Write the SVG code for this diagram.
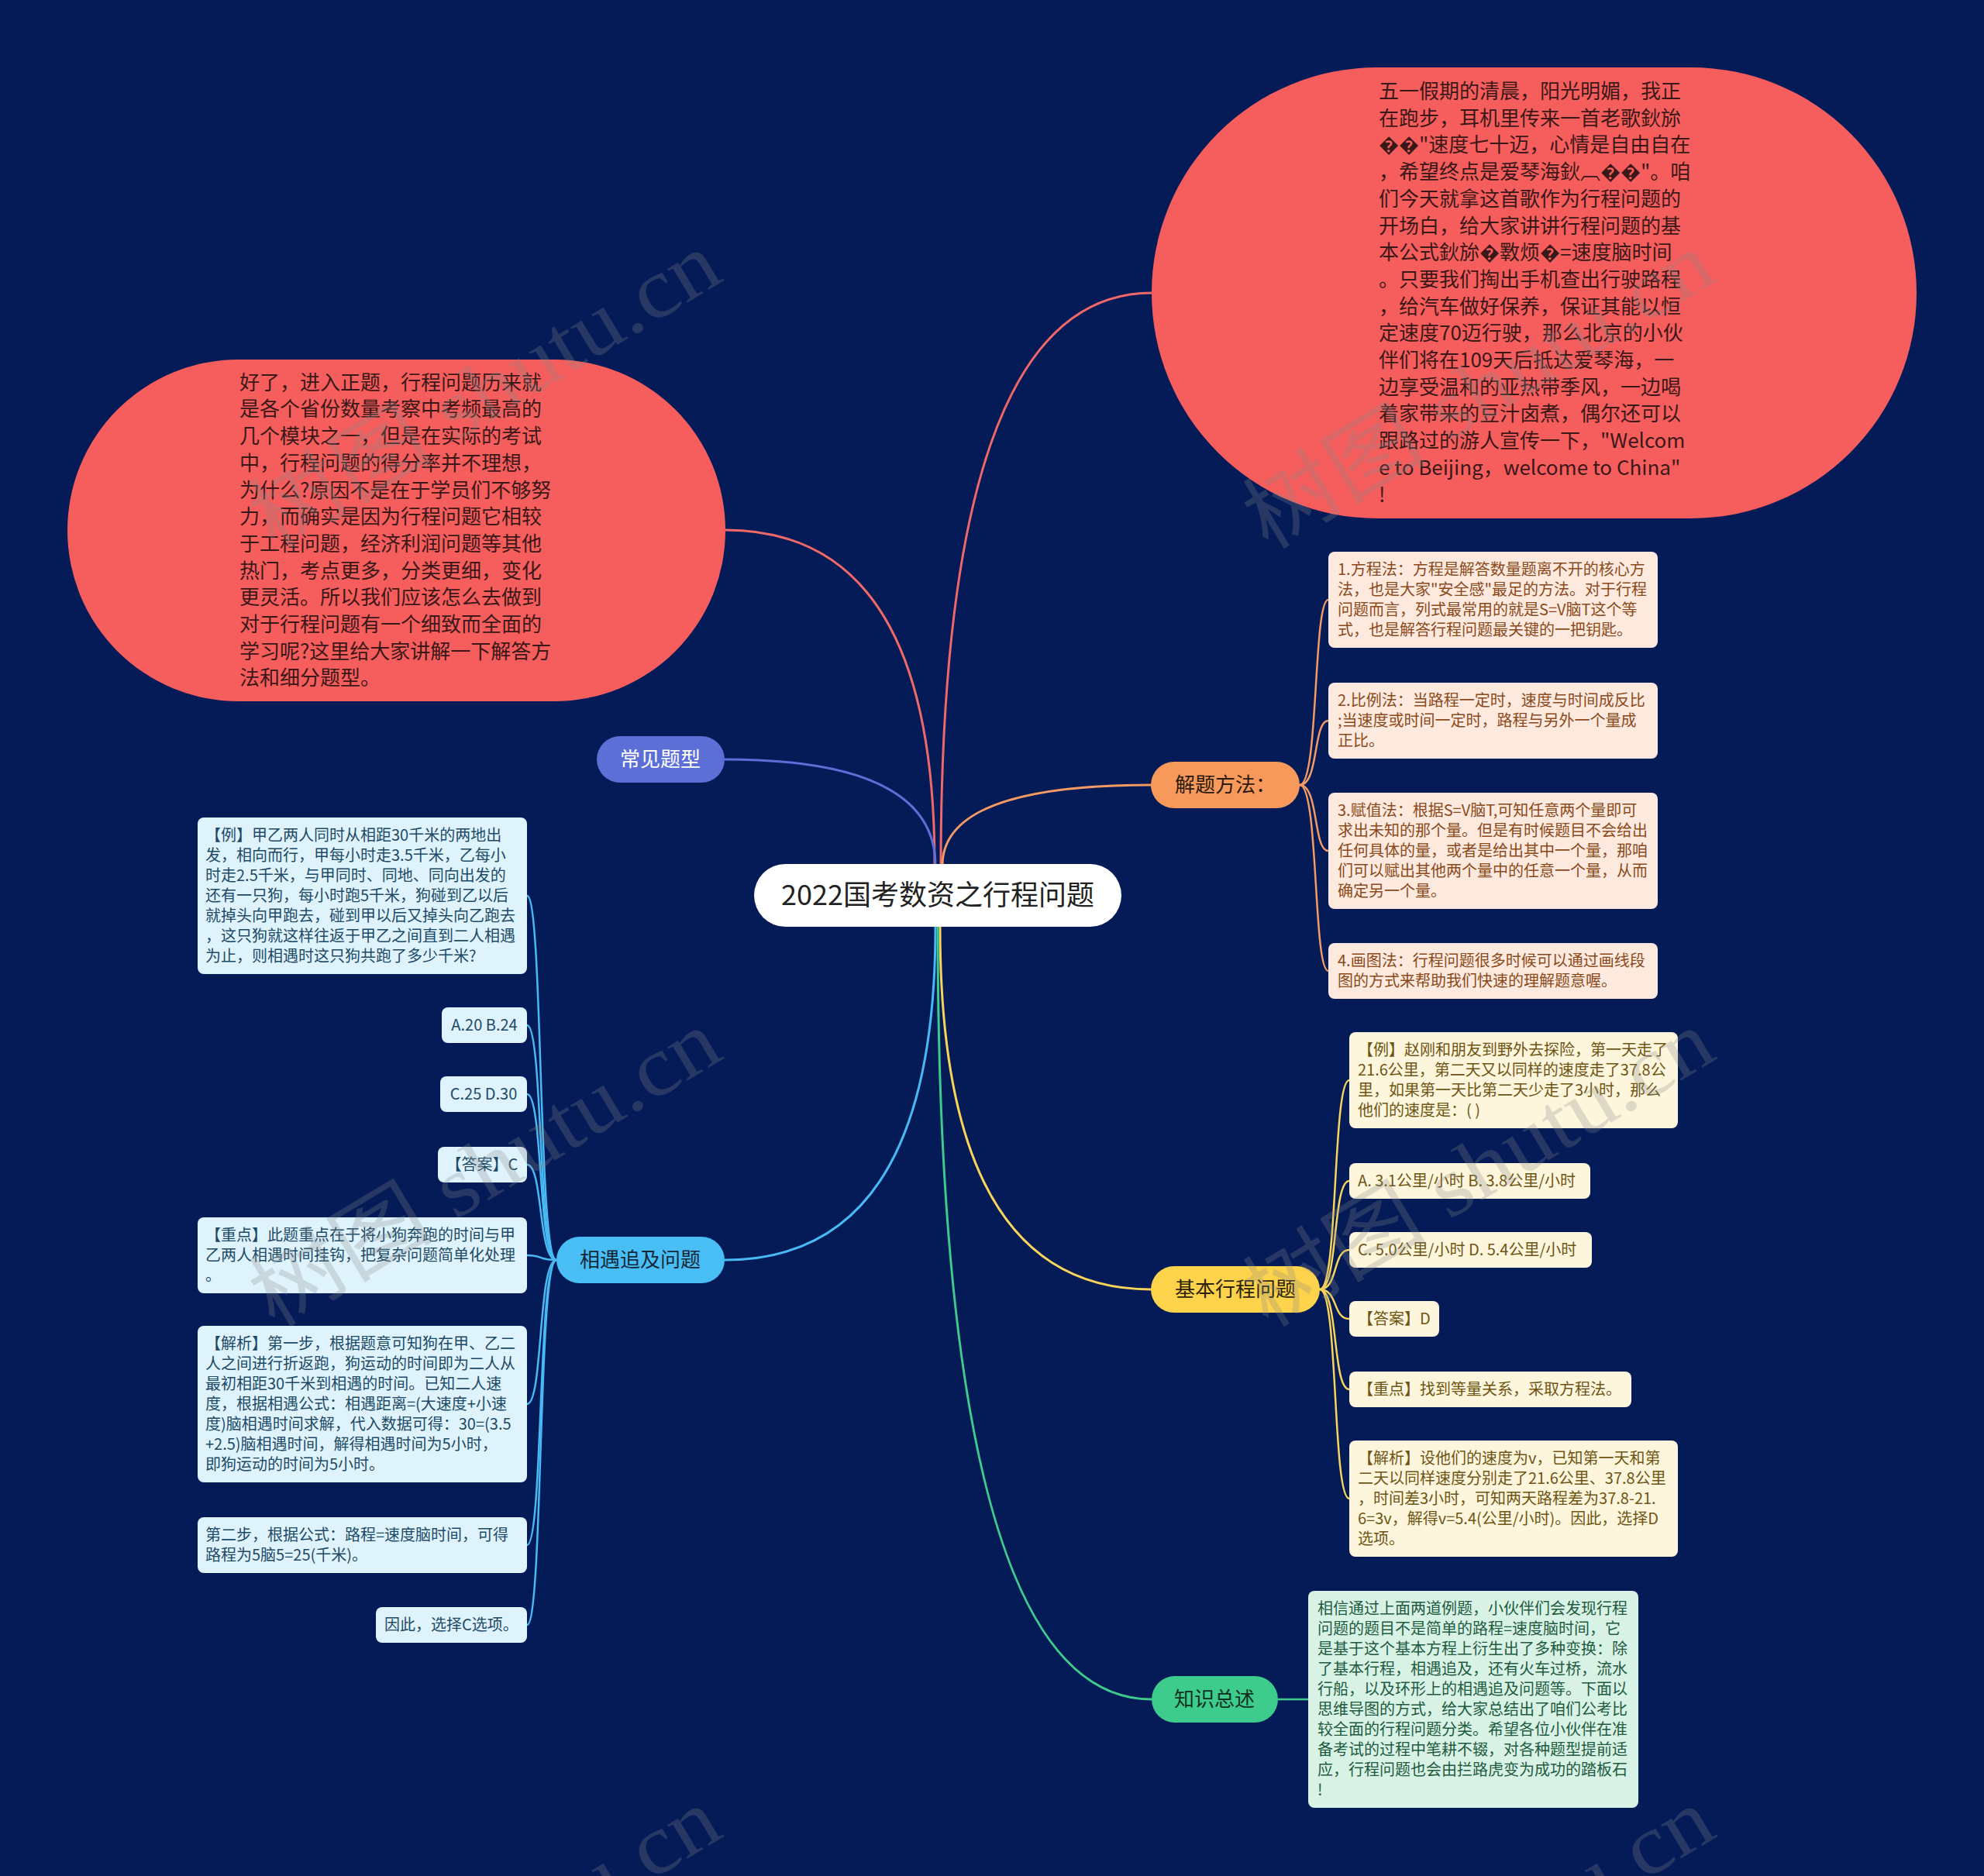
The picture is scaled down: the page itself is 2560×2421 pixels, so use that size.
<svg xmlns="http://www.w3.org/2000/svg" width="2560" height="2421" viewBox="0 0 2560 2421">
<style>
.t{font-family:"Noto Sans CJK SC","Noto Sans",sans-serif}
.pill{fill:#f65d5d}
.pt{font-size:26px;fill:#3b1818}
.bt{font-size:26px}
.lf{font-size:20px}
.c{fill:none;stroke-width:3;stroke-linecap:round}
.cl{fill:none;stroke-width:2.5}
.lb{fill:#dff3fc}.lbt{fill:#1d4a66}
.lo{fill:#fde9dd}.lot{fill:#8a4a1c}
.ly{fill:#fdf5dc}.lyt{fill:#6e5514}
.lg{fill:#d8f2e6}.lgt{fill:#1e5b3f}
.wm{font-family:"Liberation Serif","Noto Sans CJK SC",serif;font-size:110px;fill:#8a8a8a;opacity:0.26}
</style>
<rect width="2560" height="2421" fill="#041b58"/>

<g id="connectors">
  <path class="c" stroke="#f06868" d="M1214 1117 Q1214 378 1486 378"/>
  <path class="c" stroke="#f06868" d="M1206 1117 Q1206 684 936 684"/>
  <path class="c" stroke="#5b6fd7" d="M1207 1117 Q1207 980 935 980"/>
  <path class="c" stroke="#f49a62" d="M1216 1117 Q1216 1013 1485 1013"/>
  <path class="c" stroke="#48b9f2" d="M1207 1196 Q1207 1626 935 1626"/>
  <path class="c" stroke="#f8d45a" d="M1213 1196 Q1213 1664 1485 1664"/>
  <path class="c" stroke="#3ecb8c" d="M1210 1196 Q1210 2193 1486 2193"/>
  <g stroke="#f49a62">
    <path class="cl" d="M1677 1013 C1702 1013 1694 774 1714 774"/>
    <path class="cl" d="M1677 1013 C1702 1013 1694 930 1714 930"/>
    <path class="cl" d="M1677 1013 C1702 1013 1694 1098 1714 1098"/>
    <path class="cl" d="M1677 1013 C1702 1013 1694 1253 1714 1253"/>
  </g>
  <g stroke="#f8d45a">
    <path class="cl" d="M1703 1664 C1727 1664 1719 1394 1741 1394"/>
    <path class="cl" d="M1703 1664 C1727 1664 1719 1524 1741 1524"/>
    <path class="cl" d="M1703 1664 C1727 1664 1719 1613 1741 1613"/>
    <path class="cl" d="M1703 1664 C1727 1664 1719 1702 1741 1702"/>
    <path class="cl" d="M1703 1664 C1727 1664 1719 1793 1741 1793"/>
    <path class="cl" d="M1703 1664 C1727 1664 1719 1934 1741 1934"/>
  </g>
  <g stroke="#48b9f2">
    <path class="cl" d="M718 1626 C694 1626 701 1156 680 1156"/>
    <path class="cl" d="M718 1626 C694 1626 701 1323 680 1323"/>
    <path class="cl" d="M718 1626 C694 1626 701 1412 680 1412"/>
    <path class="cl" d="M718 1626 C694 1626 701 1503 680 1503"/>
    <path class="cl" d="M718 1626 C694 1626 701 1620 680 1620"/>
    <path class="cl" d="M718 1626 C694 1626 701 1812 680 1812"/>
    <path class="cl" d="M718 1626 C694 1626 701 1994 680 1994"/>
    <path class="cl" d="M718 1626 C694 1626 701 2097 680 2097"/>
  </g>
  <path class="cl" stroke="#3ecb8c" d="M1649 2193 L1688 2193"/>
</g>

<g id="root">
  <rect x="973" y="1115" width="474" height="81" rx="40.5" fill="#ffffff"/>
  <text class="t" x="1210" y="1168" font-size="36" fill="#222222" text-anchor="middle">2022国考数资之行程问题</text>
</g>

<g id="intro-right">
  <rect class="pill" x="1486" y="87" width="987" height="582" rx="291"/>
  <text class="t pt" x="1779">
    <tspan x="1779" y="127">五一假期的清晨，阳光明媚，我正</tspan>
    <tspan x="1779" y="161.7">在跑步，耳机里传来一首老歌鈥旀</tspan>
    <tspan x="1779" y="196.4">��"速度七十迈，心情是自由自在</tspan>
    <tspan x="1779" y="231.1">，希望终点是爱琴海鈥︹��"。咱</tspan>
    <tspan x="1779" y="265.8">们今天就拿这首歌作为行程问题的</tspan>
    <tspan x="1779" y="300.5">开场白，给大家讲讲行程问题的基</tspan>
    <tspan x="1779" y="335.2">本公式鈥旀�斁烦�=速度脑时间</tspan>
    <tspan x="1779" y="369.9">。只要我们掏出手机查出行驶路程</tspan>
    <tspan x="1779" y="404.6">，给汽车做好保养，保证其能以恒</tspan>
    <tspan x="1779" y="439.3">定速度70迈行驶，那么北京的小伙</tspan>
    <tspan x="1779" y="474">伴们将在109天后抵达爱琴海，一</tspan>
    <tspan x="1779" y="508.7">边享受温和的亚热带季风，一边喝</tspan>
    <tspan x="1779" y="543.4">着家带来的豆汁卤煮，偶尔还可以</tspan>
    <tspan x="1779" y="578.1">跟路过的游人宣传一下，"Welcom</tspan>
    <tspan x="1779" y="612.8">e to Beijing，welcome to China"</tspan>
    <tspan x="1779" y="647.5">!</tspan>
  </text>
</g>

<g id="intro-left">
  <rect class="pill" x="87" y="464" width="849" height="441" rx="220.5"/>
  <text class="t pt">
    <tspan x="309" y="502.7">好了，进入正题，行程问题历来就</tspan>
    <tspan x="309" y="537.4">是各个省份数量考察中考频最高的</tspan>
    <tspan x="309" y="572.1">几个模块之一，但是在实际的考试</tspan>
    <tspan x="309" y="606.8">中，行程问题的得分率并不理想，</tspan>
    <tspan x="309" y="641.5">为什么?原因不是在于学员们不够努</tspan>
    <tspan x="309" y="676.2">力，而确实是因为行程问题它相较</tspan>
    <tspan x="309" y="710.9">于工程问题，经济利润问题等其他</tspan>
    <tspan x="309" y="745.6">热门，考点更多，分类更细，变化</tspan>
    <tspan x="309" y="780.3">更灵活。所以我们应该怎么去做到</tspan>
    <tspan x="309" y="815">对于行程问题有一个细致而全面的</tspan>
    <tspan x="309" y="849.7">学习呢?这里给大家讲解一下解答方</tspan>
    <tspan x="309" y="884.4">法和细分题型。</tspan>
  </text>
</g>

<g id="branch-common">
  <rect x="770" y="950" width="165" height="60" rx="30" fill="#5b6fd7"/>
  <text class="t bt" x="852" y="989" fill="#ffffff" text-anchor="middle">常见题型</text>
</g>
<g id="branch-meet">
  <rect x="718" y="1596" width="217" height="60" rx="30" fill="#48bef5"/>
  <text class="t bt" x="826" y="1635" fill="#14283a" text-anchor="middle">相遇追及问题</text>
</g>
<g id="branch-method">
  <rect x="1485" y="983" width="192" height="60" rx="30" fill="#f7995a"/>
  <text class="t bt" x="1581" y="1022" fill="#2b1a0e" text-anchor="middle">解题方法：</text>
</g>
<g id="branch-basic">
  <rect x="1485" y="1634" width="218" height="60" rx="30" fill="#fcd34b"/>
  <text class="t bt" x="1594" y="1673" fill="#2b2208" text-anchor="middle">基本行程问题</text>
</g>
<g id="branch-summary">
  <rect x="1486" y="2163" width="163" height="60" rx="30" fill="#3dcc8c"/>
  <text class="t bt" x="1567" y="2202" fill="#10301f" text-anchor="middle">知识总述</text>
</g>

<g id="method-1">
  <rect class="lo" x="1714" y="712" width="425" height="124" rx="8"/>
  <text class="t lf lot">
    <tspan x="1726" y="742">1.方程法：方程是解答数量题离不开的核心方</tspan>
    <tspan x="1726" y="768">法，也是大家"安全感"最足的方法。对于行程</tspan>
    <tspan x="1726" y="794">问题而言，列式最常用的就是S=V脑T这个等</tspan>
    <tspan x="1726" y="820">式，也是解答行程问题最关键的一把钥匙。</tspan>
  </text>
</g>
<g id="method-2">
  <rect class="lo" x="1714" y="881" width="425" height="98" rx="8"/>
  <text class="t lf lot">
    <tspan x="1726" y="911">2.比例法：当路程一定时，速度与时间成反比</tspan>
    <tspan x="1726" y="937">;当速度或时间一定时，路程与另外一个量成</tspan>
    <tspan x="1726" y="963">正比。</tspan>
  </text>
</g>
<g id="method-3">
  <rect class="lo" x="1714" y="1023" width="425" height="150" rx="8"/>
  <text class="t lf lot">
    <tspan x="1726" y="1053">3.赋值法：根据S=V脑T,可知任意两个量即可</tspan>
    <tspan x="1726" y="1079">求出未知的那个量。但是有时候题目不会给出</tspan>
    <tspan x="1726" y="1105">任何具体的量，或者是给出其中一个量，那咱</tspan>
    <tspan x="1726" y="1131">们可以赋出其他两个量中的任意一个量，从而</tspan>
    <tspan x="1726" y="1157">确定另一个量。</tspan>
  </text>
</g>
<g id="method-4">
  <rect class="lo" x="1714" y="1217" width="425" height="72" rx="8"/>
  <text class="t lf lot">
    <tspan x="1726" y="1247">4.画图法：行程问题很多时候可以通过画线段</tspan>
    <tspan x="1726" y="1273">图的方式来帮助我们快速的理解题意喔。</tspan>
  </text>
</g>

<g id="basic-1">
  <rect class="ly" x="1741" y="1332" width="424" height="124" rx="8"/>
  <text class="t lf lyt">
    <tspan x="1752" y="1362">【例】赵刚和朋友到野外去探险，第一天走了</tspan>
    <tspan x="1752" y="1388">21.6公里，第二天又以同样的速度走了37.8公</tspan>
    <tspan x="1752" y="1414">里，如果第一天比第二天少走了3小时，那么</tspan>
    <tspan x="1752" y="1440">他们的速度是：( )</tspan>
  </text>
</g>
<g id="basic-2">
  <rect class="ly" x="1741" y="1501" width="311" height="46" rx="8"/>
  <text class="t lf lyt" x="1752" y="1531">A. 3.1公里/小时 B. 3.8公里/小时</text>
</g>
<g id="basic-3">
  <rect class="ly" x="1741" y="1590" width="313" height="46" rx="8"/>
  <text class="t lf lyt" x="1752" y="1620">C. 5.0公里/小时 D. 5.4公里/小时</text>
</g>
<g id="basic-4">
  <rect class="ly" x="1741" y="1679" width="116" height="46" rx="8"/>
  <text class="t lf lyt" x="1752" y="1709">【答案】D</text>
</g>
<g id="basic-5">
  <rect class="ly" x="1741" y="1770" width="364" height="46" rx="8"/>
  <text class="t lf lyt" x="1752" y="1800">【重点】找到等量关系，采取方程法。</text>
</g>
<g id="basic-6">
  <rect class="ly" x="1741" y="1859" width="424" height="150" rx="8"/>
  <text class="t lf lyt">
    <tspan x="1752" y="1889">【解析】设他们的速度为v，已知第一天和第</tspan>
    <tspan x="1752" y="1915">二天以同样速度分别走了21.6公里、37.8公里</tspan>
    <tspan x="1752" y="1941">，时间差3小时，可知两天路程差为37.8-21.</tspan>
    <tspan x="1752" y="1967">6=3v，解得v=5.4(公里/小时)。因此，选择D</tspan>
    <tspan x="1752" y="1993">选项。</tspan>
  </text>
</g>

<g id="meet-1">
  <rect class="lb" x="255" y="1055" width="425" height="202" rx="8"/>
  <text class="t lf lbt">
    <tspan x="265" y="1085">【例】甲乙两人同时从相距30千米的两地出</tspan>
    <tspan x="265" y="1111">发，相向而行，甲每小时走3.5千米，乙每小</tspan>
    <tspan x="265" y="1137">时走2.5千米，与甲同时、同地、同向出发的</tspan>
    <tspan x="265" y="1163">还有一只狗，每小时跑5千米，狗碰到乙以后</tspan>
    <tspan x="265" y="1189">就掉头向甲跑去，碰到甲以后又掉头向乙跑去</tspan>
    <tspan x="265" y="1215">，这只狗就这样往返于甲乙之间直到二人相遇</tspan>
    <tspan x="265" y="1241">为止，则相遇时这只狗共跑了多少千米?</tspan>
  </text>
</g>
<g id="meet-2">
  <rect class="lb" x="570" y="1300" width="110" height="46" rx="8"/>
  <text class="t lf lbt" x="625" y="1330" text-anchor="middle">A.20 B.24</text>
</g>
<g id="meet-3">
  <rect class="lb" x="568" y="1389" width="112" height="46" rx="8"/>
  <text class="t lf lbt" x="624" y="1419" text-anchor="middle">C.25 D.30</text>
</g>
<g id="meet-4">
  <rect class="lb" x="565" y="1480" width="115" height="46" rx="8"/>
  <text class="t lf lbt" x="622" y="1510" text-anchor="middle">【答案】C</text>
</g>
<g id="meet-5">
  <rect class="lb" x="255" y="1571" width="425" height="98" rx="8"/>
  <text class="t lf lbt">
    <tspan x="265" y="1601">【重点】此题重点在于将小狗奔跑的时间与甲</tspan>
    <tspan x="265" y="1627">乙两人相遇时间挂钩，把复杂问题简单化处理</tspan>
    <tspan x="265" y="1653">。</tspan>
  </text>
</g>
<g id="meet-6">
  <rect class="lb" x="255" y="1711" width="425" height="202" rx="8"/>
  <text class="t lf lbt">
    <tspan x="265" y="1741">【解析】第一步，根据题意可知狗在甲、乙二</tspan>
    <tspan x="265" y="1767">人之间进行折返跑，狗运动的时间即为二人从</tspan>
    <tspan x="265" y="1793">最初相距30千米到相遇的时间。已知二人速</tspan>
    <tspan x="265" y="1819">度，根据相遇公式：相遇距离=(大速度+小速</tspan>
    <tspan x="265" y="1845">度)脑相遇时间求解，代入数据可得：30=(3.5</tspan>
    <tspan x="265" y="1871">+2.5)脑相遇时间，解得相遇时间为5小时，</tspan>
    <tspan x="265" y="1897">即狗运动的时间为5小时。</tspan>
  </text>
</g>
<g id="meet-7">
  <rect class="lb" x="255" y="1958" width="425" height="72" rx="8"/>
  <text class="t lf lbt">
    <tspan x="265" y="1988">第二步，根据公式：路程=速度脑时间，可得</tspan>
    <tspan x="265" y="2014">路程为5脑5=25(千米)。</tspan>
  </text>
</g>
<g id="meet-8">
  <rect class="lb" x="485" y="2074" width="195" height="46" rx="8"/>
  <text class="t lf lbt" x="496" y="2104">因此，选择C选项。</text>
</g>

<g id="summary-1">
  <rect class="lg" x="1688" y="2053" width="426" height="280" rx="8"/>
  <text class="t lf lgt">
    <tspan x="1700" y="2083">相信通过上面两道例题，小伙伴们会发现行程</tspan>
    <tspan x="1700" y="2109">问题的题目不是简单的路程=速度脑时间，它</tspan>
    <tspan x="1700" y="2135">是基于这个基本方程上衍生出了多种变换：除</tspan>
    <tspan x="1700" y="2161">了基本行程，相遇追及，还有火车过桥，流水</tspan>
    <tspan x="1700" y="2187">行船，以及环形上的相遇追及问题等。下面以</tspan>
    <tspan x="1700" y="2213">思维导图的方式，给大家总结出了咱们公考比</tspan>
    <tspan x="1700" y="2239">较全面的行程问题分类。希望各位小伙伴在准</tspan>
    <tspan x="1700" y="2265">备考试的过程中笔耕不辍，对各种题型提前适</tspan>
    <tspan x="1700" y="2291">应，行程问题也会由拦路虎变为成功的踏板石</tspan>
    <tspan x="1700" y="2317">!</tspan>
  </text>
</g>

<g id="watermarks">
  <text class="wm" transform="translate(645,536) rotate(-31)" x="0" y="0" text-anchor="middle" textLength="680" lengthAdjust="spacingAndGlyphs">树图 shutu.cn</text>
  <text class="wm" transform="translate(1927,536) rotate(-31)" x="0" y="0" text-anchor="middle" textLength="680" lengthAdjust="spacingAndGlyphs">树图 shutu.cn</text>
  <text class="wm" transform="translate(645,1540) rotate(-31)" x="0" y="0" text-anchor="middle" textLength="680" lengthAdjust="spacingAndGlyphs">树图 shutu.cn</text>
  <text class="wm" transform="translate(1927,1540) rotate(-31)" x="0" y="0" text-anchor="middle" textLength="680" lengthAdjust="spacingAndGlyphs">树图 shutu.cn</text>
  <text class="wm" transform="translate(645,2544) rotate(-31)" x="0" y="0" text-anchor="middle" textLength="680" lengthAdjust="spacingAndGlyphs">树图 shutu.cn</text>
  <text class="wm" transform="translate(1927,2544) rotate(-31)" x="0" y="0" text-anchor="middle" textLength="680" lengthAdjust="spacingAndGlyphs">树图 shutu.cn</text>
</g>
</svg>
